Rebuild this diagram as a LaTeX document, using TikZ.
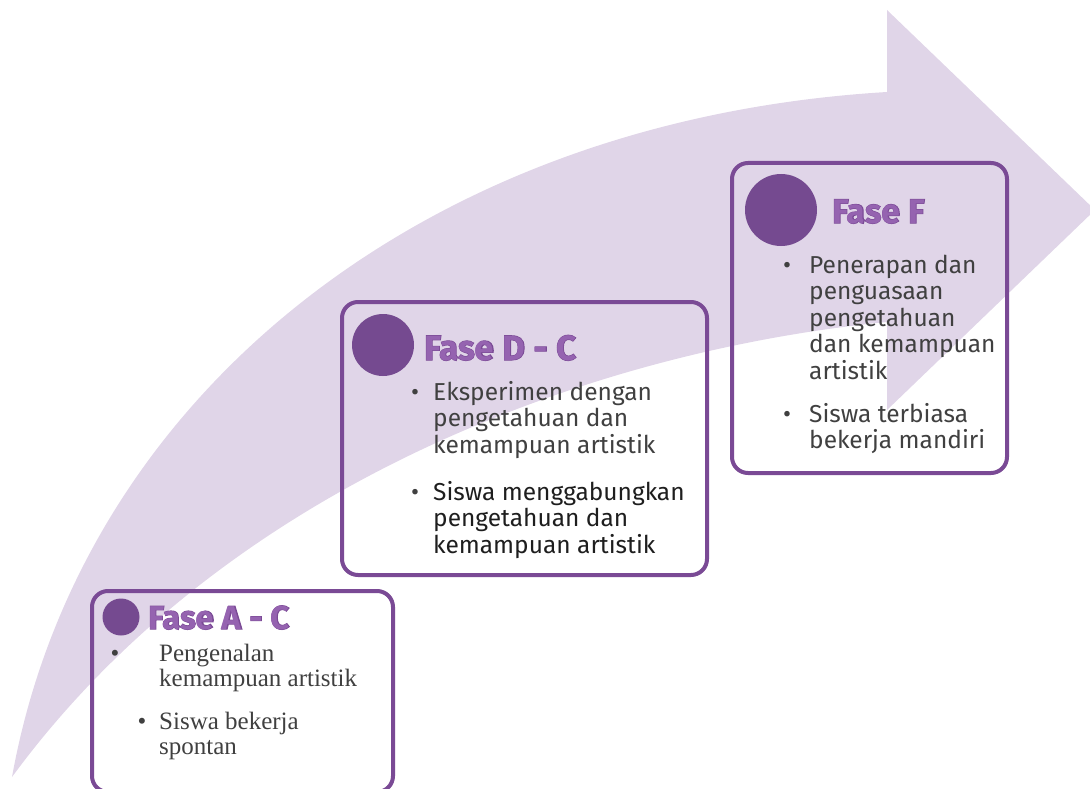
\documentclass[tikz,border=0pt]{standalone}
\usepackage{fontspec}
\setmainfont{Fira Sans}
\newfontfamily\serifbody{Liberation Serif}

\definecolor{arrowfill}{HTML}{E0D5E8}
\definecolor{boxline}{HTML}{7A4A95}
\definecolor{dotfill}{HTML}{754A90}
\definecolor{titlefill}{HTML}{9563B0}
\definecolor{titleline}{HTML}{7A4A95}
\definecolor{textgray}{HTML}{404040}
\definecolor{textdark}{HTML}{1E1E1E}

\newcommand{\outlinetitle}[2]{{\fontsize{#1}{#1}\selectfont
  \rlap{\color{titleline}\addfontfeature{FakeBold=3}#2}\color{titlefill}#2}}

\tikzset{
  phasebox/.style={shape=rectangle, draw=boxline, line width=4pt, rounded corners=16pt, inner sep=0pt},
  phasedot/.style={shape=circle, fill=dotfill, inner sep=0pt},
  phasetitle/.style={anchor=base west, inner sep=0pt, font=\bfseries},
  % base west of a multi-line item = baseline of its last line
  itemtext/.style={anchor=base west, inner sep=0pt, align=left, text=textgray,
    font=\fontsize{24.5}{26.5}\selectfont},
  serifitem/.style={itemtext, font=\serifbody\fontsize{25}{25}\selectfont},
}

\begin{document}
\begin{tikzpicture}[x=1pt, y=-1pt]
  \useasboundingbox (0, 0) rectangle (1090, 789);

  % the big arrow behind the boxes
  \fill[arrowfill] (12, 777) .. controls (80, 400) and (420, 120) .. (887, 92)
    -- (887, 10) -- (1095, 210) -- (887, 410) -- (887, 322)
    .. controls (600, 350) and (230, 480) .. cycle;

  % boxes
  \node[phasebox, minimum width=301pt, minimum height=201pt] (boxA) at (242.5, 691.5) {};
  \node[phasebox, minimum width=365pt, minimum height=273pt] (boxD) at (524.5, 438.5) {};
  \node[phasebox, minimum width=275pt, minimum height=310pt] (boxF) at (869.5, 318) {};

  \node[phasedot, minimum size=37pt] (dotA) at (121, 617) {};
  \node[phasedot, minimum size=62pt] (dotD) at (383, 345) {};
  \node[phasedot, minimum size=72pt] (dotF) at (781, 210) {};

  \node[phasetitle] (titleA) at (148, 629) {\outlinetitle{33}{Fase A - C}};
  \node[phasetitle] (titleD) at (424, 360) {\outlinetitle{35}{Fase D - C}};
  \node[phasetitle] (titleF) at (832, 223) {\outlinetitle{34}{Fase F}};

  % Fase A - C
  \node[serifitem, anchor=base] (bulA1) at (115, 661) {•};
  \node[serifitem] (itemA1) at (159, 686) {Pengenalan\\kemampuan artistik};
  \node[serifitem, anchor=base] (bulA2) at (142, 729) {•};
  \node[serifitem] (itemA2) at (159, 754) {Siswa bekerja\\spontan};

  % Fase D - C
  \node[itemtext, anchor=base] (bulD1) at (415, 400) {•};
  \node[itemtext] (itemD1) at (433, 453) {Eksperimen dengan\\pengetahuan dan\\kemampuan artistik};
  \node[itemtext, anchor=base] (bulD2) at (415, 500) {•};
  \node[itemtext, text=textdark] (itemD2) at (433, 553) {Siswa menggabungkan\\pengetahuan dan\\kemampuan artistik};

  % Fase F
  \node[itemtext, anchor=base] (bulF1) at (787, 273) {•};
  \node[itemtext] (itemF1) at (809, 379) {Penerapan dan\\penguasaan\\pengetahuan\\dan kemampuan\\artistik};
  \node[itemtext, anchor=base] (bulF2) at (787, 422) {•};
  \node[itemtext] (itemF2) at (809, 448.5) {Siswa terbiasa\\bekerja mandiri};
\end{tikzpicture}
\end{document}
